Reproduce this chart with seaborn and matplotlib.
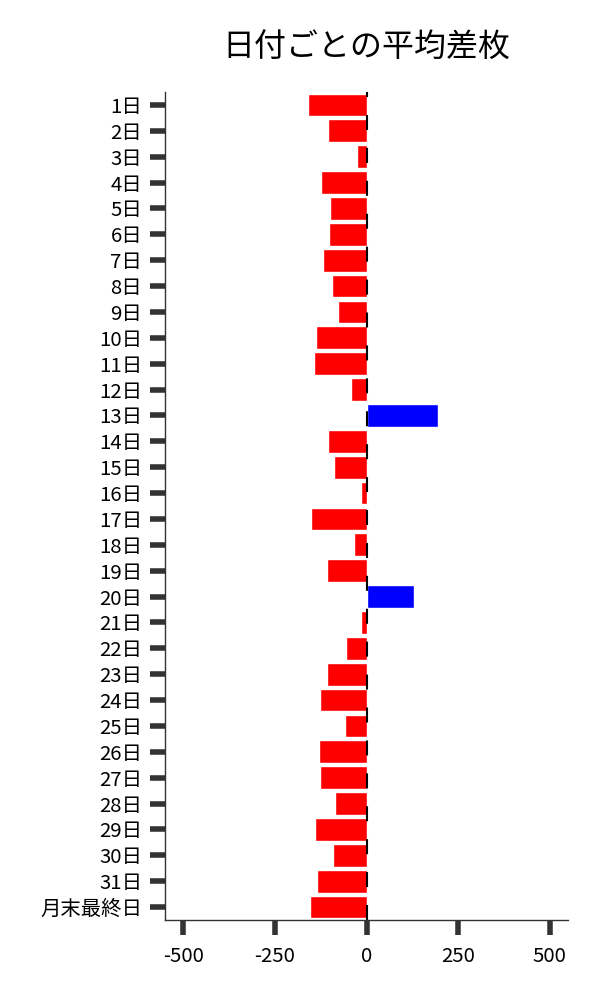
import matplotlib
matplotlib.use("Agg")
import matplotlib.pyplot as plt
import seaborn as sns

# 日付ラベルと平均差枚
days = [f"{d}日" for d in range(1, 32)] + ["月末最終日"]
avg_diff = [-159, -105, -27, -124, -100, -103, -119, -95, -78, -138,
            -143, -43, 194, -105, -89, -14, -151, -35, -108, 129,
            -16, -57, -108, -127, -59, -130, -127, -86, -141, -92,
            -135, -154]
bar_colors = ["#0000ff" if v > 0 else "#ff0000" for v in avg_diff]
x_ticks = [-500, -250, 0, 250, 500]


def main():
    sns.set_style("ticks")
    plt.rcParams["font.family"] = ["Noto Sans CJK JP", "DejaVu Sans"]
    plt.rcParams["axes.unicode_minus"] = False

    fig = plt.figure(figsize=(6, 10), dpi=100)
    ax = fig.add_axes([0.275, 0.08, 0.672, 0.828])

    sns.barplot(x=avg_diff, y=days, hue=days, palette=bar_colors,
                orient="h", width=0.88, saturation=1, legend=False, ax=ax)
    ax.axvline(0, color="black", lw=1.5, linestyle=(0, (7.2, 8.6)))

    ax.set_xlim(-550, 550)
    ax.set_xticks(x_ticks)
    ax.set_xticklabels([str(t) for t in x_ticks])
    ax.set_xlabel("")
    ax.set_ylabel("")
    ax.tick_params(axis="both", which="major", bottom=True, left=True,
                   length=11, width=4, color="#333333", labelcolor="black",
                   labelsize=14.7)
    ax.tick_params(axis="x", pad=8)
    ax.tick_params(axis="y", pad=5.5)
    sns.despine(ax=ax)
    for side in ["left", "bottom"]:
        ax.spines[side].set_color("#333333")
        ax.spines[side].set_linewidth(1.0)

    ax.set_title("日付ごとの平均差枚", fontsize=23, pad=25, color="black")
    fig.savefig("out.png", dpi=100)


if __name__ == "__main__":
    main()
